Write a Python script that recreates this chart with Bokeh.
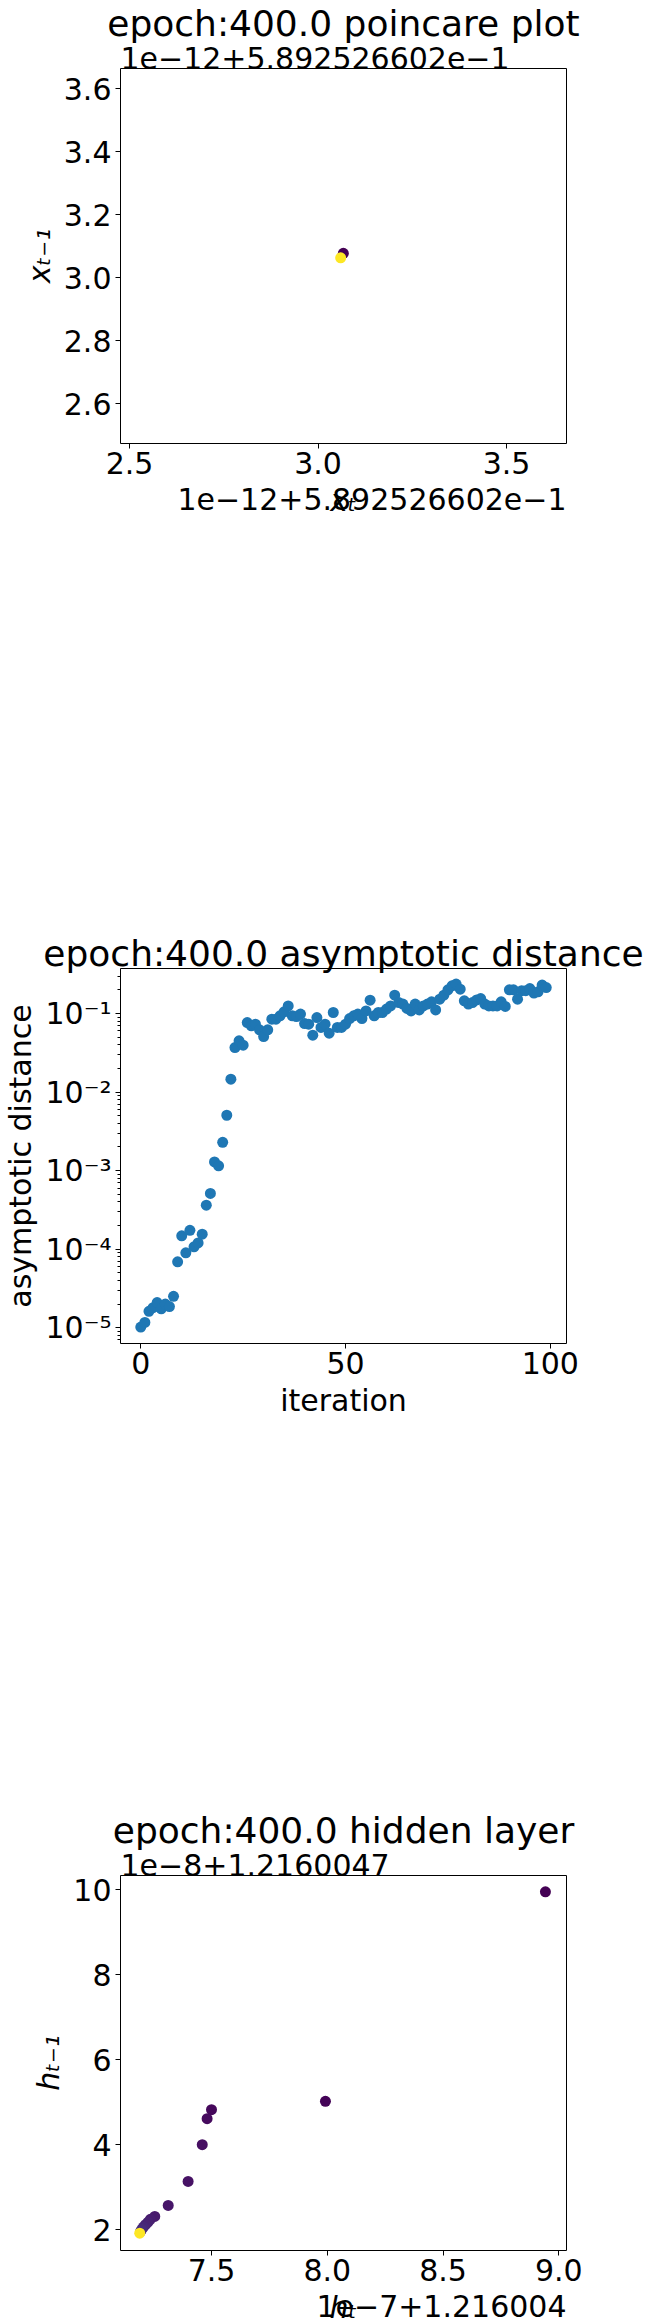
from bokeh.embed import file_html
from bokeh.resources import INLINE
from bokeh.plotting import figure
from bokeh.layouts import column
from bokeh.models import ColumnDataSource, FixedTicker, Title
from bokeh.transform import linear_cmap
from bokeh.palettes import Viridis256

FONT = "DejaVu Sans"
TICK_SIZE = "30px"  # ticks, axis labels, offset texts
TITLE_SIZE = "36px"
BLUE = "#1f77b4"

# --- poincare plot (values are offsets, in units of 1e-12, from 0.5892526602)
poincare_iter = [0, 99]
poincare_x = [3.067, 3.060]
poincare_y = [3.077, 3.0626]
poincare_xticks = [2.5, 3.0, 3.5]
poincare_xtick_labels = ["2.5", "3.0", "3.5"]
poincare_yticks = [2.6, 2.8, 3.0, 3.2, 3.4, 3.6]
poincare_ytick_labels = ["2.6", "2.8", "3.0", "3.2", "3.4", "3.6"]
poincare_offset = "1e\u221212+5.892526602e\u22121"

# --- asymptotic distance per iteration
dist_values = [
    1.02e-5, 1.17e-5, 1.62e-5, 1.80e-5, 2.09e-5, 1.74e-5, 2.00e-5, 1.86e-5, 2.51e-5, 6.9e-5,
    1.48e-4, 9.0e-5, 1.74e-4, 1.07e-4, 1.20e-4, 1.55e-4, 3.63e-4, 5.13e-4, 1.29e-3, 1.15e-3,
    2.29e-3, 5.07e-3, 1.46e-2, 3.69e-2, 4.49e-2, 3.95e-2, 0.0767, 0.0697, 0.0731, 0.0619,
    0.0509, 0.0619, 0.0847, 0.0847, 0.0933, 0.105, 0.125, 0.0933, 0.0916, 0.0982,
    0.0746, 0.0731, 0.0530, 0.0889, 0.0664, 0.0731, 0.0562, 0.103, 0.0664, 0.0664,
    0.0731, 0.0863, 0.0933, 0.0982, 0.0863, 0.108, 0.148, 0.0933, 0.103, 0.103,
    0.114, 0.125, 0.171, 0.138, 0.132, 0.116, 0.108, 0.132, 0.111, 0.125,
    0.132, 0.141, 0.111, 0.152, 0.171, 0.200, 0.225, 0.237, 0.204, 0.145,
    0.132, 0.138, 0.149, 0.155, 0.132, 0.125, 0.125, 0.125, 0.141, 0.123,
    0.200, 0.200, 0.152, 0.195, 0.195, 0.208, 0.182, 0.189, 0.230, 0.214,
]
dist_iter = list(range(len(dist_values)))
dist_xticks = [0, 50, 100]
dist_yticks = [1e-5, 1e-4, 1e-3, 1e-2, 1e-1]
dist_ytick_labels = ["10\u207b\u2075", "10\u207b\u2074", "10\u207b\u00b3", "10\u207b\u00b2", "10\u207b\u00b9"]

# --- hidden layer (x: units 1e-7 from 1.216004, y: units 1e-8 from 1.2160047)
hidden_iter = [0, 1, 2, 3, 4, 5, 6, 7, 8, 9, 10, 11, 12, 13, 99]
hidden_x = [8.942, 7.992, 7.500, 7.481, 7.460, 7.399, 7.313, 7.255,
            7.236, 7.226, 7.215, 7.206, 7.199, 7.194, 7.190]
hidden_y = [9.945, 5.020, 4.824, 4.612, 4.000, 3.137, 2.573, 2.314,
            2.245, 2.180, 2.120, 2.063, 2.010, 1.965, 1.920]
hidden_xticks = [7.5, 8.0, 8.5, 9.0]
hidden_xtick_labels = ["7.5", "8.0", "8.5", "9.0"]
hidden_yticks = [2, 4, 6, 8, 10]
hidden_xoffset = "1e\u22127+1.216004"
hidden_yoffset = "1e\u22128+1.2160047"

FW, FH = 446, 375  # frame size


def base_figure(x_range, y_range, xlabel, ylabel, y_axis_type="linear", bottom=464,
                math_labels=True):
    p = figure(frame_width=FW, frame_height=FH, x_range=x_range, y_range=y_range,
               y_axis_type=y_axis_type, output_backend="svg", toolbar_location=None,
               min_border_left=110, min_border_right=80, min_border_top=61,
               min_border_bottom=bottom, title=None)
    p.grid.grid_line_color = None
    p.background_fill_color = "white"
    p.border_fill_color = "white"
    p.outline_line_color = "black"
    p.outline_line_width = 1
    p.axis.axis_line_color = None
    p.axis.major_tick_out = 5
    p.axis.major_tick_in = 0
    p.axis.major_tick_line_color = "black"
    p.axis.minor_tick_line_color = None
    p.axis.major_label_text_font = FONT
    p.axis.major_label_text_font_size = TICK_SIZE
    p.axis.major_label_text_color = "black"
    p.xaxis.major_label_standoff = 3
    p.yaxis.major_label_standoff = 4
    p.axis.axis_label_text_font = FONT
    p.axis.axis_label_text_font_size = TICK_SIZE
    p.axis.axis_label_text_color = "black"
    p.axis.axis_label_text_font_style = "italic" if math_labels else "normal"
    p.xaxis.axis_label = xlabel
    p.yaxis.axis_label = ylabel
    p.xaxis.axis_label_standoff = 6
    p.yaxis.axis_label_standoff = 4
    return p


def add_title(p, text, side, align, size, standoff, valign="bottom"):
    p.add_layout(Title(text=text, align=align, vertical_align=valign, text_font=FONT,
                       text_font_size=size, text_font_style="normal", standoff=standoff,
                       text_color="black"), side)


# Poincare plot
p1 = base_figure((2.476, 3.659), (2.473, 3.664), "x\u209c", "x\u209c\u208b\u2081")
src1 = ColumnDataSource(dict(x=poincare_x, y=poincare_y, it=poincare_iter))
p1.scatter("x", "y", source=src1, size=11, line_color=None,
           fill_color=linear_cmap("it", Viridis256, 0, 99))
p1.xaxis.ticker = FixedTicker(ticks=poincare_xticks)
p1.xaxis.major_label_overrides = dict(zip(poincare_xticks, poincare_xtick_labels))
p1.yaxis.ticker = FixedTicker(ticks=poincare_yticks)
p1.yaxis.major_label_overrides = dict(zip(poincare_yticks, poincare_ytick_labels))
add_title(p1, poincare_offset, "above", "left", TICK_SIZE, 0)
add_title(p1, "epoch:400.0 poincare plot", "above", "center", TITLE_SIZE, 1)
add_title(p1, poincare_offset, "below", "right", TICK_SIZE, -66, valign="top")

# Asymptotic distance
p2 = base_figure((-4.95, 103.95), (6.3e-6, 0.374), "iteration", "asymptotic distance",
                 y_axis_type="log", math_labels=False)
src2 = ColumnDataSource(dict(x=dist_iter, y=dist_values))
p2.scatter("x", "y", source=src2, size=11, line_color=None, fill_color=BLUE)
p2.xaxis.ticker = FixedTicker(ticks=dist_xticks)
minor = [m * 10.0 ** e for e in range(-6, 0) for m in range(2, 10)]
minor = [t for t in minor if 6.3e-6 < t < 0.374]
p2.yaxis.ticker = FixedTicker(ticks=dist_yticks, minor_ticks=minor)
p2.yaxis.major_label_overrides = dict(zip(dist_yticks, dist_ytick_labels))
p2.yaxis.minor_tick_line_color = "black"
p2.yaxis.minor_tick_out = 3
p2.yaxis.minor_tick_in = 0
add_title(p2, "epoch:400.0 asymptotic distance", "above", "center", TITLE_SIZE, -10)

# Hidden layer
p3 = base_figure((7.107, 9.033), (1.513, 10.33), "h\u209c", "h\u209c\u208b\u2081", bottom=70)
src3 = ColumnDataSource(dict(x=hidden_x, y=hidden_y, it=hidden_iter))
p3.scatter("x", "y", source=src3, size=11, line_color=None,
           fill_color=linear_cmap("it", Viridis256, 0, 99))
p3.xaxis.ticker = FixedTicker(ticks=hidden_xticks)
p3.xaxis.major_label_overrides = dict(zip(hidden_xticks, hidden_xtick_labels))
p3.yaxis.ticker = FixedTicker(ticks=hidden_yticks)
add_title(p3, hidden_yoffset, "above", "left", TICK_SIZE, 0)
add_title(p3, "epoch:400.0 hidden layer", "above", "center", TITLE_SIZE, 1)
add_title(p3, hidden_xoffset, "below", "right", TICK_SIZE, -66, valign="top")

open("out.html", "w").write(file_html(column(p1, p2, p3), INLINE))
